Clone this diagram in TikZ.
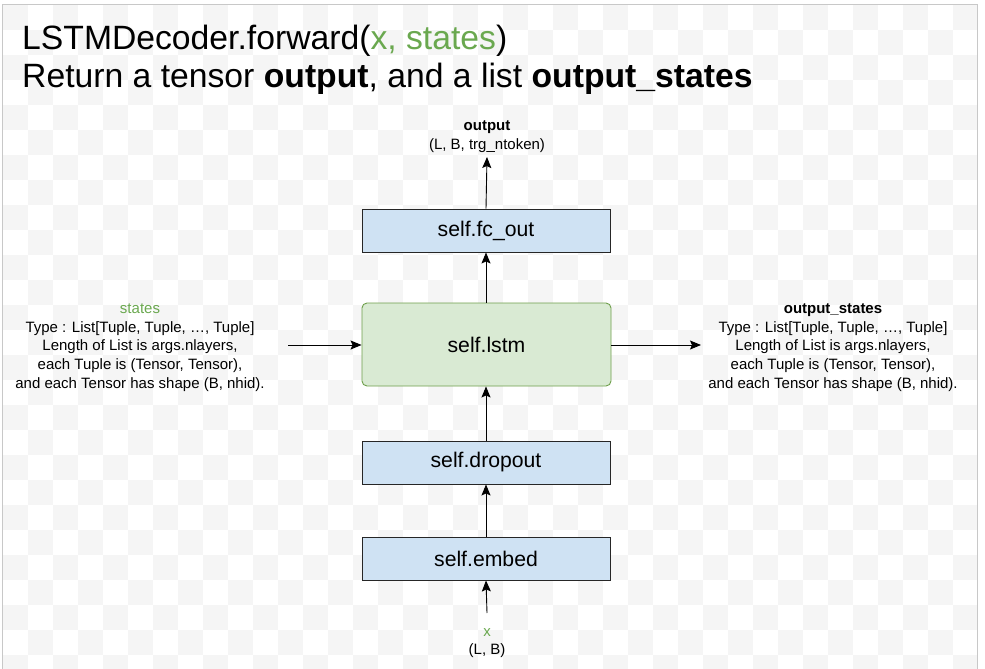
\documentclass[tikz,border=0pt]{standalone}
\usepackage{fontspec}
\setmainfont{Liberation Sans}
\usetikzlibrary{arrows.meta}
\definecolor{chk}{HTML}{F5F5F5}
\definecolor{frame}{HTML}{C8C8C8}
\definecolor{bluefill}{HTML}{CFE2F3}
\definecolor{greenfill}{HTML}{D9EAD3}
\definecolor{greendraw}{HTML}{6E9F4B}
\definecolor{gtext}{HTML}{6AA84F}
\tikzset{
  blk/.style={draw=black!85, line width=0.9pt, fill=bluefill, minimum width=248pt, minimum height=43pt, inner sep=0pt, font=\fontsize{21.2}{24}\selectfont},
  lstmblk/.style={draw=greendraw, line width=0.9pt, fill=greenfill, rounded corners=5pt, minimum width=249pt, minimum height=83pt, inner sep=0pt, font=\fontsize{21.2}{24}\selectfont},
  lbl/.style={align=center, inner sep=0pt, font=\fontsize{15}{18.75}\selectfont},
  arr/.style={line width=0.9pt, -{Stealth[length=11pt,width=9pt,inset=2pt]}},
}
\begin{document}
\begin{tikzpicture}[x=1pt,y=-1pt]
\useasboundingbox (0,0) rectangle (985,669);
% checkerboard background
\begin{scope}
\clip (3,5) rectangle (977,669);
\foreach \i in {0,...,39}{
  \foreach \j in {0,...,26}{
    \pgfmathtruncatemacro\cpar{mod(\i+\j,2)}
    \ifnum\cpar=0 \fill[chk] (3+25*\i,5+25*\j) rectangle ++(25,25); \fi
  }
}
\end{scope}
\draw[frame, line width=1pt] (2.5,669) -- (2.5,4.5) -- (977.5,4.5) -- (977.5,669);
% title
\node[anchor=base west, inner sep=0pt, font=\fontsize{33.7}{38}\selectfont] (t1) at (22,50) {LSTMDecoder.forward(\textcolor{gtext}{x, states})};
\node[anchor=base west, inner sep=0pt, font=\fontsize{33.7}{38}\selectfont] (t2) at (22,88) {Return a tensor \textbf{output}, and a list \textbf{output\_states}};
% blocks
\node[blk] (fc) at (486,230.5) {self.fc\_out};
\node[lstmblk] (lstm) at (486.5,344.5) {self.lstm};
\node[blk] (drop) at (486,462.5) {self.dropout};
\node[blk] (emb) at (486,558.5) {self.embed};
% labels
\node[lbl] (out) at (487,137) {\textbf{output}\\(L, B, trg\_ntoken)};
\node[lbl] (xin) at (487,643) {\textcolor{gtext}{x}\\(L, B)};
\node[lbl] (st) at (140,347.5) {\textcolor{gtext}{states}\\Type : List[Tuple, Tuple, \ldots, Tuple]\\Length of List is args.nlayers,\\each Tuple is (Tensor, Tensor),\\and each Tensor has shape (B, nhid).};
\node[lbl] (ost) at (833,347.5) {\textbf{output\_states}\\Type : List[Tuple, Tuple, \ldots, Tuple]\\Length of List is args.nlayers,\\each Tuple is (Tensor, Tensor),\\and each Tensor has shape (B, nhid).};
% connector end points
\coordinate (xs) at (487,613);
\coordinate (oe) at (487,157);
\coordinate (ss) at (288,345);
\coordinate (se) at (701,345);
% arrows
\draw[arr] (xs) -- (emb.south);
\draw[arr] (emb.north) -- (drop.south);
\draw[arr] (drop.north) -- (lstm.south -| drop.north);
\draw[arr] (lstm.north -| fc.south) -- (fc.south);
\draw[arr] (fc.north) -- (oe);
\draw[arr] (ss) -- (ss -| lstm.west);
\draw[arr] (se -| lstm.east) -- (se);
\end{tikzpicture}
\end{document}
